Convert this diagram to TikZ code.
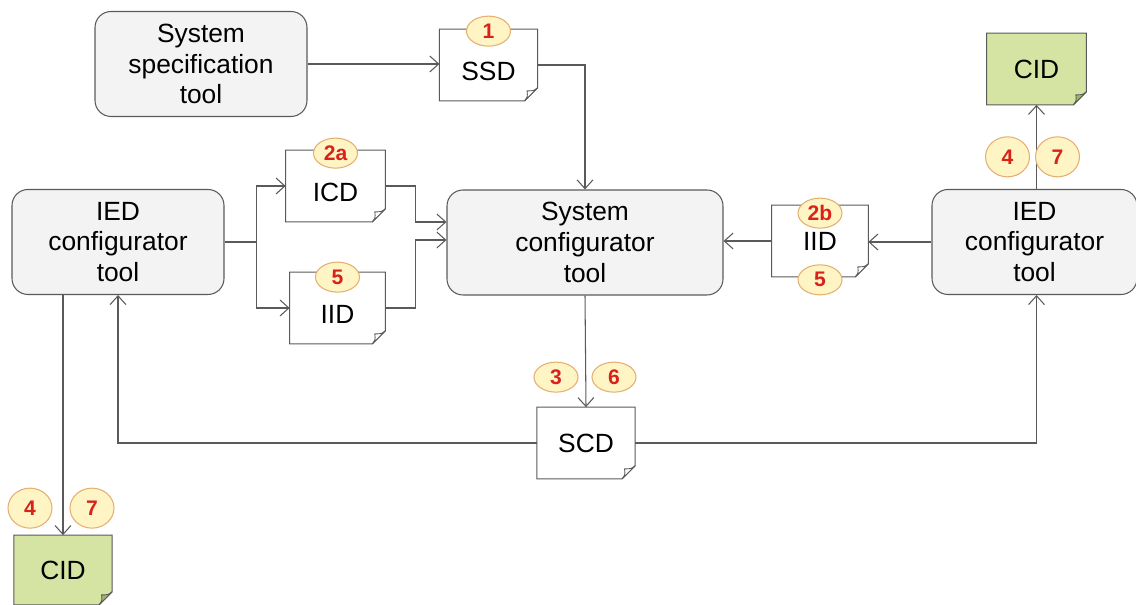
\documentclass[tikz,border=0pt]{standalone}
\usepackage{fontspec}
\setmainfont{Liberation Sans}
\usetikzlibrary{shapes.geometric,arrows.meta,backgrounds}
\definecolor{linegray}{HTML}{5A5A5A}
\definecolor{boxfill}{HTML}{F3F3F4}
\definecolor{cidgreen}{HTML}{D5E4A2}
\definecolor{foldgreen}{HTML}{9CB76A}
\definecolor{badgefill}{HTML}{FFF4C4}
\definecolor{badgeline}{HTML}{E5AF70}
\definecolor{badgered}{HTML}{D8231B}
\newcommand{\docframe}[3]{% name, fill, flap fill   (page with a dog-ear, 0.26 cm)
  \begin{pgfonlayer}{background}
    \filldraw[fill=#2,draw=linegray,line width=0.6pt] (#1.north west) -- (#1.north east)
      -- ([yshift=0.26cm]#1.south east) -- ([xshift=-0.26cm]#1.south east)
      -- (#1.south west) -- cycle;
  \end{pgfonlayer}
  \filldraw[fill=#3,draw=linegray,line width=0.5pt,line join=round] ([yshift=0.26cm]#1.south east)
    .. controls ([xshift=-0.08cm,yshift=0.2cm]#1.south east) .. ([xshift=-0.21cm,yshift=0.2cm]#1.south east)
    .. controls ([xshift=-0.2cm,yshift=0.08cm]#1.south east) .. ([xshift=-0.26cm]#1.south east) -- cycle;}

\begin{document}
\begin{tikzpicture}[>={Straight Barb[length=5pt,width=9pt]},
  link/.style={draw=linegray,line width=0.6pt},
  tool/.style={draw=linegray,line width=0.6pt,fill=boxfill,rounded corners=0.32cm,align=center,
    font=\fontsize{15}{17.6}\selectfont,minimum height=2.1cm,inner sep=0},
  doc/.style={inner sep=0,minimum width=1.95cm,minimum height=1.42cm,
    font=\fontsize{15}{17.6}\selectfont},
  docdown/.style={doc,text height=17.4pt,text depth=0pt},
  badge/.style={ellipse,draw=badgeline,line width=0.6pt,fill=badgefill,text=badgered,inner sep=0,
    font=\fontsize{12}{12}\selectfont\bfseries,minimum width=0.88cm,minimum height=0.6cm},
  tallbadge/.style={badge,minimum height=0.8cm}]
  \useasboundingbox (0,0) rectangle (22.72,12.1);
  % ---- tools ----
  \node[tool,minimum width=4.24cm] (spec) at (4.02,10.82) {System\\specification\\tool};
  \node[tool,minimum width=5.52cm] (sysconf) at (11.7,7.25) {System\\configurator\\tool};
  \node[tool,minimum width=4.24cm] (iedL) at (2.36,7.26) {IED\\configurator\\tool};
  \node[tool,minimum width=4.1cm] (iedR) at (20.69,7.26) {IED\\configurator\\tool};
  % ---- documents ----
  \node[docdown] (ssd) at (9.77,10.8) {SSD};
  \docframe{ssd}{white}{white}
  \node[docdown,minimum width=1.98cm] (icd) at (6.71,8.38) {ICD};
  \docframe{icd}{white}{white}
  \node[docdown,minimum width=1.9cm] (iidL) at (6.75,5.94) {IID};
  \docframe{iidL}{white}{white}
  \node[doc,minimum width=1.92cm] (iidR) at (16.4,7.28) {IID};
  \docframe{iidR}{white}{white}
  \node[doc] (scd) at (11.72,3.24) {SCD};
  \docframe{scd}{white}{white}
  \node[doc,minimum width=1.98cm] (cidR) at (20.73,10.72) {CID};
  \docframe{cidR}{cidgreen}{foldgreen}
  \node[doc,minimum height=1.38cm] (cidL) at (1.26,0.7) {CID};
  \docframe{cidL}{cidgreen}{foldgreen}
  % ---- top: specification to system configurator ----
  \draw[link,->] (spec.east) -- (spec.east -| ssd.west);
  \draw[link,->] (ssd.east) -| (sysconf.north);
  % ---- left IED tool, ICD and IID ----
  \draw[link] (iedL.east) -- ++(0.64,0) coordinate (split);
  \draw[link,->] (split) |- (icd.west);
  \draw[link,->] (split) |- (iidL.west);
  \draw[link,->] (icd.east) -- ++(0.6,0) |- ([yshift=0.41cm]sysconf.west);
  \draw[link,->] (iidL.east) -- ++(0.6,0) |- ([yshift=0.05cm]sysconf.west);
  % ---- right IED tool ----
  \draw[link,->] (iedR.west) -- (iedR.west -| iidR.east);
  \draw[link,->] (iidR.west) -- (iidR.west -| sysconf.east);
  \draw[link,->] (cidR.south |- iedR.north) -- (cidR.south);
  % ---- SCD back to both IED tools ----
  \draw[link,->] (sysconf.south) -- (scd.north);
  \draw[link,->] (scd.west) -| (iedL.south);
  \draw[link,->] (scd.east) -| (cidR.south |- iedR.south);
  \draw[link,->] (iedL.south -| cidL.north) -- (cidL.north);
  % ---- step badges ----
  \node[badge] (b1) at ([yshift=-0.04cm]ssd.north) {1};
  \node[badge] (b2a) at ([yshift=-0.06cm]icd.north) {2a};
  \node[badge] (b5L) at ([yshift=-0.1cm]iidL.north) {5};
  \node[badge] (b2b) at ([yshift=-0.16cm]iidR.north) {2b};
  \node[badge] (b5R) at ([yshift=-0.06cm]iidR.south) {5};
  \node[badge] (b3) at ([xshift=-0.6cm,yshift=0.6cm]scd.north) {3};
  \node[badge] (b6) at ([xshift=0.56cm,yshift=0.6cm]scd.north) {6};
  \node[tallbadge] (b4R) at ([xshift=-0.58cm,yshift=-1.04cm]cidR.south) {4};
  \node[tallbadge] (b7R) at ([xshift=0.42cm,yshift=-1.04cm]cidR.south) {7};
  \node[tallbadge] (b4L) at ([xshift=-0.66cm,yshift=0.54cm]cidL.north) {4};
  \node[tallbadge] (b7L) at ([xshift=0.58cm,yshift=0.54cm]cidL.north) {7};
\end{tikzpicture}
\end{document}
